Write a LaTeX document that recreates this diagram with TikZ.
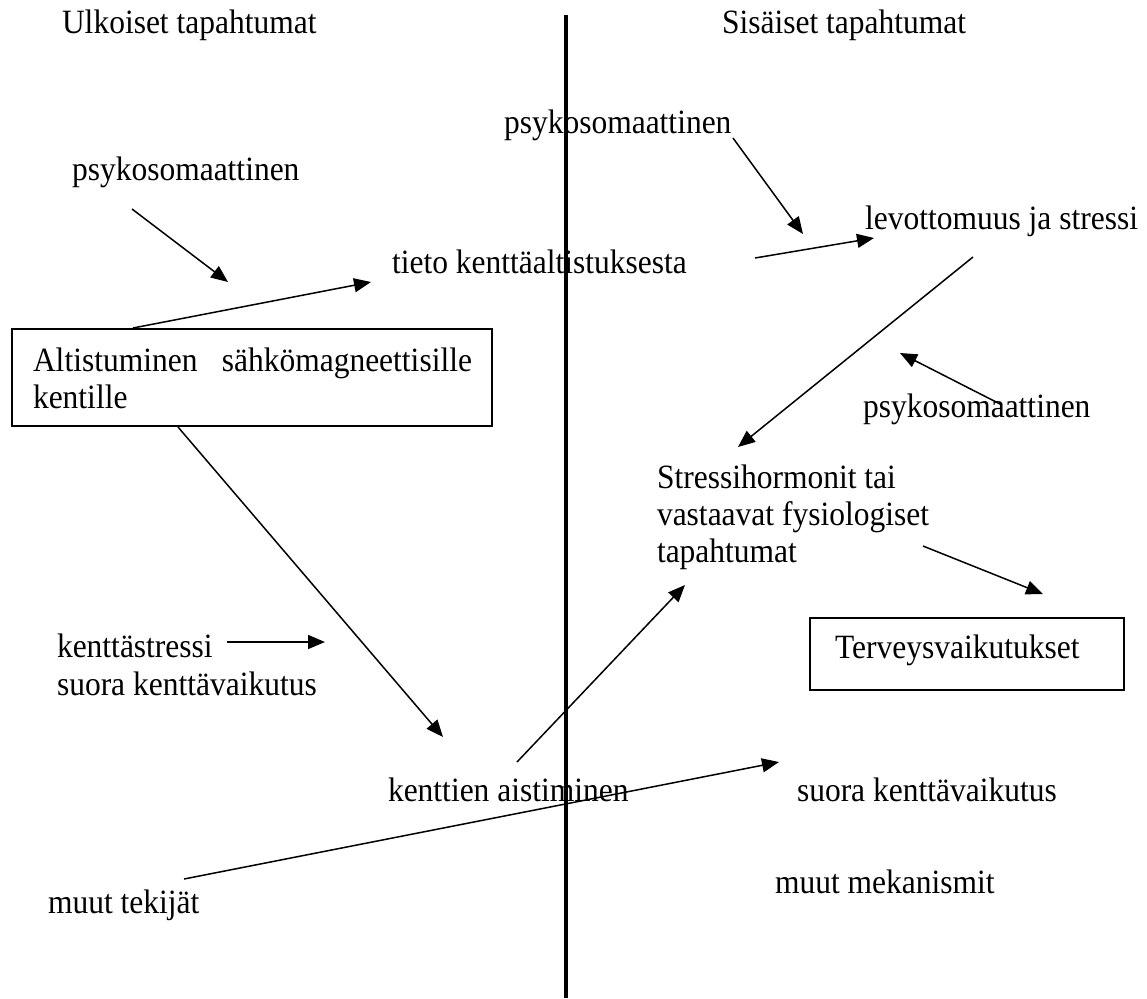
\documentclass[tikz,border=0pt]{standalone}
\usepackage{fontspec}
\usepackage{graphicx}
\setmainfont{Liberation Serif}
\usetikzlibrary{arrows.meta}
% slightly tall lettering
\newcommand\tallword[1]{\scalebox{1}[1.08]{#1}}
\begin{document}
\begin{tikzpicture}[x=0.5pt,y=-0.5pt,
  every node/.style={inner sep=0pt,outer sep=0pt,font=\fontsize{15.75pt}{18.5pt}\selectfont},
  lbl/.style={anchor=base west},
  conn/.style={line width=0.75pt,-{Triangle[length=8.5pt,width=7pt]}},
  framebox/.style={draw,line width=0.75pt},
  divider/.style={line width=1.8pt}]
\useasboundingbox (0,0) rectangle (1147,998);

% dividing line between outer and inner events
\coordinate (divtop) at (566,15);
\coordinate (divbot) at (566,998);
\draw[divider] (divtop) -- (divbot);

% headings
\node[lbl] (hout) at (62,33) {\tallword{Ulkoiset tapahtumat}};
\node[lbl] (hin) at (722,33) {\tallword{Sisäiset tapahtumat}};

% text labels
\node[lbl] (psyA) at (504,133) {\tallword{psykosomaattinen}};
\node[lbl] (psyB) at (72,180) {\tallword{psykosomaattinen}};
\node[lbl] (levo) at (865,229) {\tallword{levottomuus ja stressi}};
\node[lbl] (tieto) at (392,273) {\tallword{tieto kenttäaltistuksesta}};
\node[lbl] (psyC) at (863,417) {\tallword{psykosomaattinen}};
\node[lbl,align=left] (stress) at (657,562)
  {\tallword{Stressihormonit tai}\\\tallword{vastaavat fysiologiset}\\\tallword{tapahtumat}};
\node[lbl] (kstress) at (57,657) {\tallword{kenttästressi}};
\node[lbl] (suoraA) at (57,695) {\tallword{suora kenttävaikutus}};
\node[lbl] (aisti) at (388,801) {\tallword{kenttien aistiminen}};
\node[lbl] (suoraB) at (797,801) {\tallword{suora kenttävaikutus}};
\node[lbl] (mekan) at (775,893) {\tallword{muut mekanismit}};
\node[lbl] (tekij) at (48,913) {\tallword{muut tekijät}};

% framed boxes
\draw[framebox] (12,329) rectangle (492,426);
\node[lbl] (alt1) at (33,371) {\tallword{Altistuminen\hspace{0.77em}sähkömagneettisille}};
\node[lbl] (alt2) at (33,408) {\tallword{kentille}};
\draw[framebox] (810,618) rectangle (1124,690);
\node[lbl] (terv) at (835,658) {\tallword{Terveysvaikutukset}};

% connector end points
\coordinate (a1s) at (132,209); \coordinate (a1e) at (228,282);
\coordinate (a2s) at (133,328); \coordinate (a2e) at (371,282);
\coordinate (a3s) at (733,138); \coordinate (a3e) at (803,234);
\coordinate (a4s) at (755,258); \coordinate (a4e) at (874,238);
\coordinate (a5s) at (973,257); \coordinate (a5e) at (738,447);
\coordinate (a6s) at (1002,405); \coordinate (a6e) at (900,353);
\coordinate (a7s) at (923,546); \coordinate (a7e) at (1043,594);
\coordinate (a8s) at (227,642); \coordinate (a8e) at (325,642);
\coordinate (a9s) at (178,427); \coordinate (a9e) at (443,737);
\coordinate (a10s) at (517,762); \coordinate (a10e) at (685,585);
\coordinate (a11s) at (184,879); \coordinate (a11e) at (779,762);

% connectors
\draw[conn] (a1s) -- (a1e);
\draw[conn] (a2s) -- (a2e);
\draw[conn] (a3s) -- (a3e);
\draw[conn] (a4s) -- (a4e);
\draw[conn] (a5s) -- (a5e);
\draw[conn] (a6s) -- (a6e);
\draw[conn] (a7s) -- (a7e);
\draw[conn] (a8s) -- (a8e);
\draw[conn] (a9s) -- (a9e);
\draw[conn] (a10s) -- (a10e);
\draw[conn] (a11s) -- (a11e);
\end{tikzpicture}
\end{document}
